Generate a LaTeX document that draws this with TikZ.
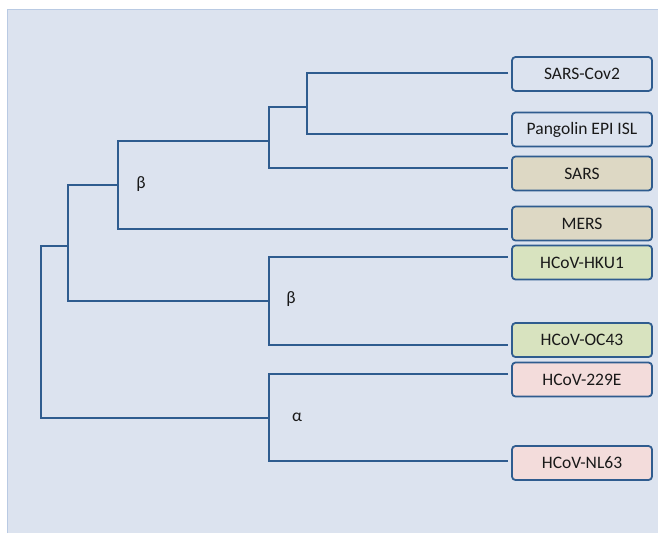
\documentclass[tikz,border=0pt]{standalone}
\usepackage{fontspec}
\setmainfont{Carlito}
\definecolor{panel}{HTML}{DCE3EF}
\definecolor{rim}{HTML}{B9CAE3}
\definecolor{bark}{HTML}{2F5C8F}
\definecolor{tan}{HTML}{DDD8C4}
\definecolor{sage}{HTML}{D8E3BF}
\definecolor{rose}{HTML}{F3DCDB}
\tikzset{
  leaf/.style={draw=bark,line width=1.8pt,rounded corners=3.5pt,minimum width=140pt,
    minimum height=34pt,inner sep=0pt,text=black!90,font=\fontsize{17.5}{20}\selectfont},
  limb/.style={draw=bark,line width=2.4pt},
  clade/.style={text=black!90,font=\fontsize{17.5}{20}\selectfont}
}
\begin{document}
\begin{tikzpicture}[x=1pt,y=-1pt]
\useasboundingbox (0,0) rectangle (658,533);
\fill[panel] (7,9) rectangle (658,533);
\draw[rim] (7,533) -- (7,9) -- (658,9);
% leaves
\node[leaf,fill=panel] (cov2) at (582,74) {SARS-Cov2};
\node[leaf,fill=panel] (pang) at (582,129.5) {Pangolin EPI ISL};
\node[leaf,fill=tan] (sars) at (582,173.5) {SARS};
\node[leaf,fill=tan] (mers) at (582,223.5) {MERS};
\node[leaf,fill=sage] (hku1) at (582,262.5) {HCoV-HKU1};
\node[leaf,fill=sage] (oc43) at (582,340) {HCoV-OC43};
\node[leaf,fill=rose] (e229) at (582,379.5) {HCoV-229E};
\node[leaf,fill=rose] (nl63) at (582,463) {HCoV-NL63};
% branch ends
\coordinate (tcov2) at (508,73);
\coordinate (tpang) at (508,134);
\coordinate (tsars) at (508,168);
\coordinate (tmers) at (508,229);
\coordinate (thku1) at (508,257);
\coordinate (toc43) at (508,345);
\coordinate (te229) at (508,374);
\coordinate (tnl63) at (508,461);
% forks
\coordinate (root) at (41,332);
\coordinate (a) at (68,246);
\coordinate (b) at (118,185);
\coordinate (c) at (269,141);
\coordinate (d) at (307,107);
\coordinate (e) at (269,301);
\coordinate (f) at (269,418);
\draw[limb] (tcov2) -| (d) |- (tpang);
\draw[limb] (d) -| (c) |- (tsars);
\draw[limb] (c) -| (b) |- (tmers);
\draw[limb] (thku1) -| (e) |- (toc43);
\draw[limb] (te229) -| (f) |- (tnl63);
\draw[limb] (b) -| (a) |- (e);
\draw[limb] (a) -| (root) |- (f);
% clade labels
\node[clade] (beta1) at (141,184) {β};
\node[clade] (beta2) at (291,299) {β};
\node[clade] (alpha) at (297,417) {α};
\end{tikzpicture}
\end{document}
